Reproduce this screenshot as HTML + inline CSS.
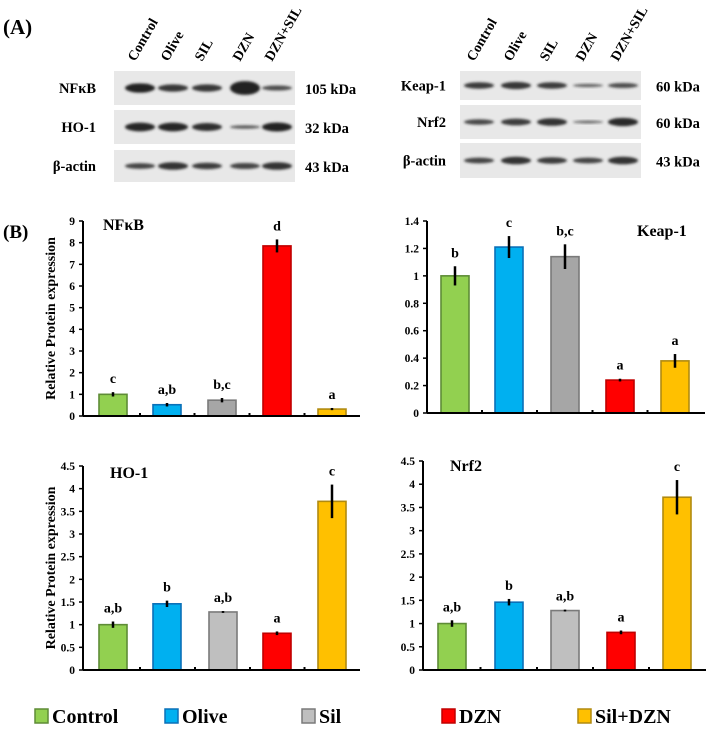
<!DOCTYPE html>
<html><head><meta charset="utf-8"><style>
html,body{margin:0;padding:0;background:#fff;}
svg{display:block;font-family:"Liberation Serif",serif;font-weight:bold;}
</style></head><body>
<svg id="fig" width="708" height="730" viewBox="0 0 708 730" xmlns="http://www.w3.org/2000/svg">
<defs><filter id="blur" x="-20%" y="-50%" width="140%" height="200%"><feGaussianBlur stdDeviation="1.3"/></filter></defs>
<text x="3" y="34" font-size="21">(A)</text>
<text x="3" y="238" font-size="19">(B)</text>
<g id="blots"></g>
<g id="charts"></g>
<g id="legend"></g>
</svg>
<script>
const groups = ["Control","Olive","Sil","DZN","Sil+DZN"];
const nfkbVals = [1.0,0.52,0.73,7.85,0.32];
const nfkbErr = [0.1,0.08,0.1,0.3,0.05];
const nfkbSig = ["c","a,b","b,c","d","a"];
const keapVals = [1.0,1.21,1.14,0.24,0.38];
const keapErr = [0.07,0.08,0.09,0.01,0.05];
const keapSig = ["b","c","b,c","a","a"];
const hoVals = [1.0,1.46,1.28,0.81,3.72];
const hoErr = [0.07,0.07,0.02,0.04,0.37];
const hoSig = ["a,b","b","a,b","a","c"];
const nrfVals = [1.0,1.46,1.28,0.81,3.72];
const nrfErr = [0.07,0.07,0.02,0.04,0.37];
const nrfSig = ["a,b","b","a,b","a","c"];
const nfkbTicks = [0,1,2,3,4,5,6,7,8,9];
const keapTicks = [0,0.2,0.4,0.6,0.8,1,1.2,1.4];
const hoTicks = [0,0.5,1,1.5,2,2.5,3,3.5,4,4.5];
const nrfTicks = [0,0.5,1,1.5,2,2.5,3,3.5,4,4.5];
const lanesLabels = ["Control","Olive","SIL","DZN","DZN+SIL"];
const leftBlotRows = ["NFκB","HO-1","β-actin"];
const leftBlotKda = ["105 kDa","32 kDa","43 kDa"];
const leftBands = [[1.3,1.0,1.0,1.9,0.7],[1.2,1.2,1.1,0.5,1.25],[0.8,1.05,0.9,0.85,1.05]];
const rightBlotRows = ["Keap-1","Nrf2","β-actin"];
const rightBlotKda = ["60 kDa","60 kDa","43 kDa"];
const rightBands = [[0.9,1.0,0.9,0.45,0.7],[0.75,0.95,1.05,0.3,1.15],[0.8,1.05,0.9,0.8,1.05]];

const NS="http://www.w3.org/2000/svg";
function mk(parent,tag,attrs,text){const e=document.createElementNS(NS,tag);for(const k in attrs)e.setAttribute(k,attrs[k]);if(text!==undefined)e.textContent=text;parent.appendChild(e);return e;}

const blots=document.getElementById('blots');
function drawBlot(px,pw,rowYs,rowHs,labels,kdas,bands,labelX,kdaX,laneXs){
  laneXs.forEach((lx,i)=>{
    const t=mk(blots,'text',{x:lx-5,y:62,'font-size':14,transform:`rotate(-60 ${lx-5} 62)`},lanesLabels[i]);
    
    
  });
  rowYs.forEach((ry,r)=>{
    const rect=mk(blots,'rect',{x:px,y:ry,width:pw,height:rowHs[r],fill:'#e8e8e8'});
    
    
    const lbl=mk(blots,'text',{x:labelX,y:ry+rowHs[r]/2+5,'font-size':14.5,'text-anchor':'end'},labels[r]);
    
    
    const kd=mk(blots,'text',{x:kdaX,y:ry+rowHs[r]/2+6,'font-size':14.5},kdas[r]);
    
    
    bands[r].forEach((v,i)=>{
      const b=mk(blots,'ellipse',{cx:laneXs[i],cy:ry+rowHs[r]/2,rx:15,ry:Math.max(1.5,3.6*v),fill:'#222','fill-opacity':Math.min(1,0.5+0.4*v),filter:'url(#blur)'});
      
      
    });
  });
}
drawBlot(114,181,[71,110,150],[34,34,32],leftBlotRows,leftBlotKda,leftBands,96,305,[140,173,207,245,277]);
drawBlot(460,181,[71,105,143],[29,34,35],rightBlotRows,rightBlotKda,rightBands,446,656,[479,516,552,588,623]);

const fills=["#92d050","#00b0f0","#a6a6a6","#ff0000","#ffc000"];
const fillsLight=["#92d050","#00b0f0","#bfbfbf","#ff0000","#ffc000"];
const strokes=["#5e8c36","#0a70b8","#7a7a7a","#c00000","#b08a10"];
const charts=document.getElementById('charts');
function chart(cfg){
  const {ax,y0,ytop,ymax,xend,centers,vals,errs,sigs,ticks,title,tx,ty,fill,yTitle}=cfg;
  const ys=v=>y0-(v/ymax)*(y0-ytop);
  const g=mk(charts,'g',{});
  
  
  vals.forEach((v,i)=>{
    const cx=centers[i];
    const r=mk(g,'rect',{x:cx-14,y:ys(v),width:28,height:y0-ys(v),fill:fill[i],stroke:strokes[i],'stroke-width':1.6});
    
    
    const e=mk(g,'line',{x1:cx,x2:cx,y1:ys(v+errs[i]),y2:ys(Math.max(0,v-errs[i])),stroke:'#000','stroke-width':2.5});
    
    
    const s=mk(g,'text',{x:cx,y:ys(v+errs[i])-9,'font-size':14,'text-anchor':'middle'},sigs[i]);
    
    
    if(i>0){const d=mk(g,'rect',{x:(centers[i-1]+cx)/2-1,y:y0-3,width:2,height:3,fill:'#000'});
      
      }
  });
  const xa=mk(g,'line',{x1:ax,x2:xend,y1:y0,y2:y0,stroke:'#000','stroke-width':2});
  
  
  const ya=mk(g,'line',{x1:ax,x2:ax,y1:ytop,y2:y0,stroke:'#000','stroke-width':2});
  
  
  ticks.forEach(t=>{
    const tk=mk(g,'line',{x1:ax-4,x2:ax,y1:ys(t),y2:ys(t),stroke:'#000','stroke-width':1.5});
    
    
    const tl=mk(g,'text',{x:ax-8,y:ys(t)+4,'font-size':11.5,'text-anchor':'end'},String(t));
    
    
  });
  const tt=mk(g,'text',{x:tx,y:ty,'font-size':16},title);
  
  
  if(yTitle){const my=(y0+ytop)/2;
    const yt=mk(g,'text',{x:55,y:my,'font-size':14,'text-anchor':'middle',transform:`rotate(-90 55 ${my})`},'Relative Protein expression');
    
    }
}
chart({name:'nfkb-chart',ax:83,y0:416,ytop:221,ymax:9,xend:360,centers:[113,167,222,277,332],vals:nfkbVals,errs:nfkbErr,sigs:nfkbSig,ticks:nfkbTicks,title:'NFκB',tx:103,ty:230,fill:fills,yTitle:true});
chart({name:'keap1-chart',ax:427,y0:413,ytop:221,ymax:1.4,xend:705,centers:[455,509,565,620,675],vals:keapVals,errs:keapErr,sigs:keapSig,ticks:keapTicks,title:'Keap-1',tx:637,ty:236,fill:fills,yTitle:false});
chart({name:'ho1-chart',ax:83,y0:670,ytop:466,ymax:4.5,xend:360,centers:[113,167,223,277,332],vals:hoVals,errs:hoErr,sigs:hoSig,ticks:hoTicks,title:'HO-1',tx:110,ty:478,fill:fillsLight,yTitle:true});
chart({name:'nrf2-chart',ax:423,y0:670,ytop:461,ymax:4.5,xend:706,centers:[452,509,565,621,677],vals:nrfVals,errs:nrfErr,sigs:nrfSig,ticks:nrfTicks,title:'Nrf2',tx:450,ty:471,fill:fillsLight,yTitle:false});

const legend=document.getElementById('legend');
const legX=[35,165,302,442,578];
groups.forEach((gname,i)=>{
  const b=mk(legend,'rect',{x:legX[i],y:709,width:13,height:14,fill:fillsLight[i],stroke:strokes[i],'stroke-width':1.5});
  
  
  const t=mk(legend,'text',{x:legX[i]+17,y:723,'font-size':20},gname);
  
  
});
</script>
</body></html>
